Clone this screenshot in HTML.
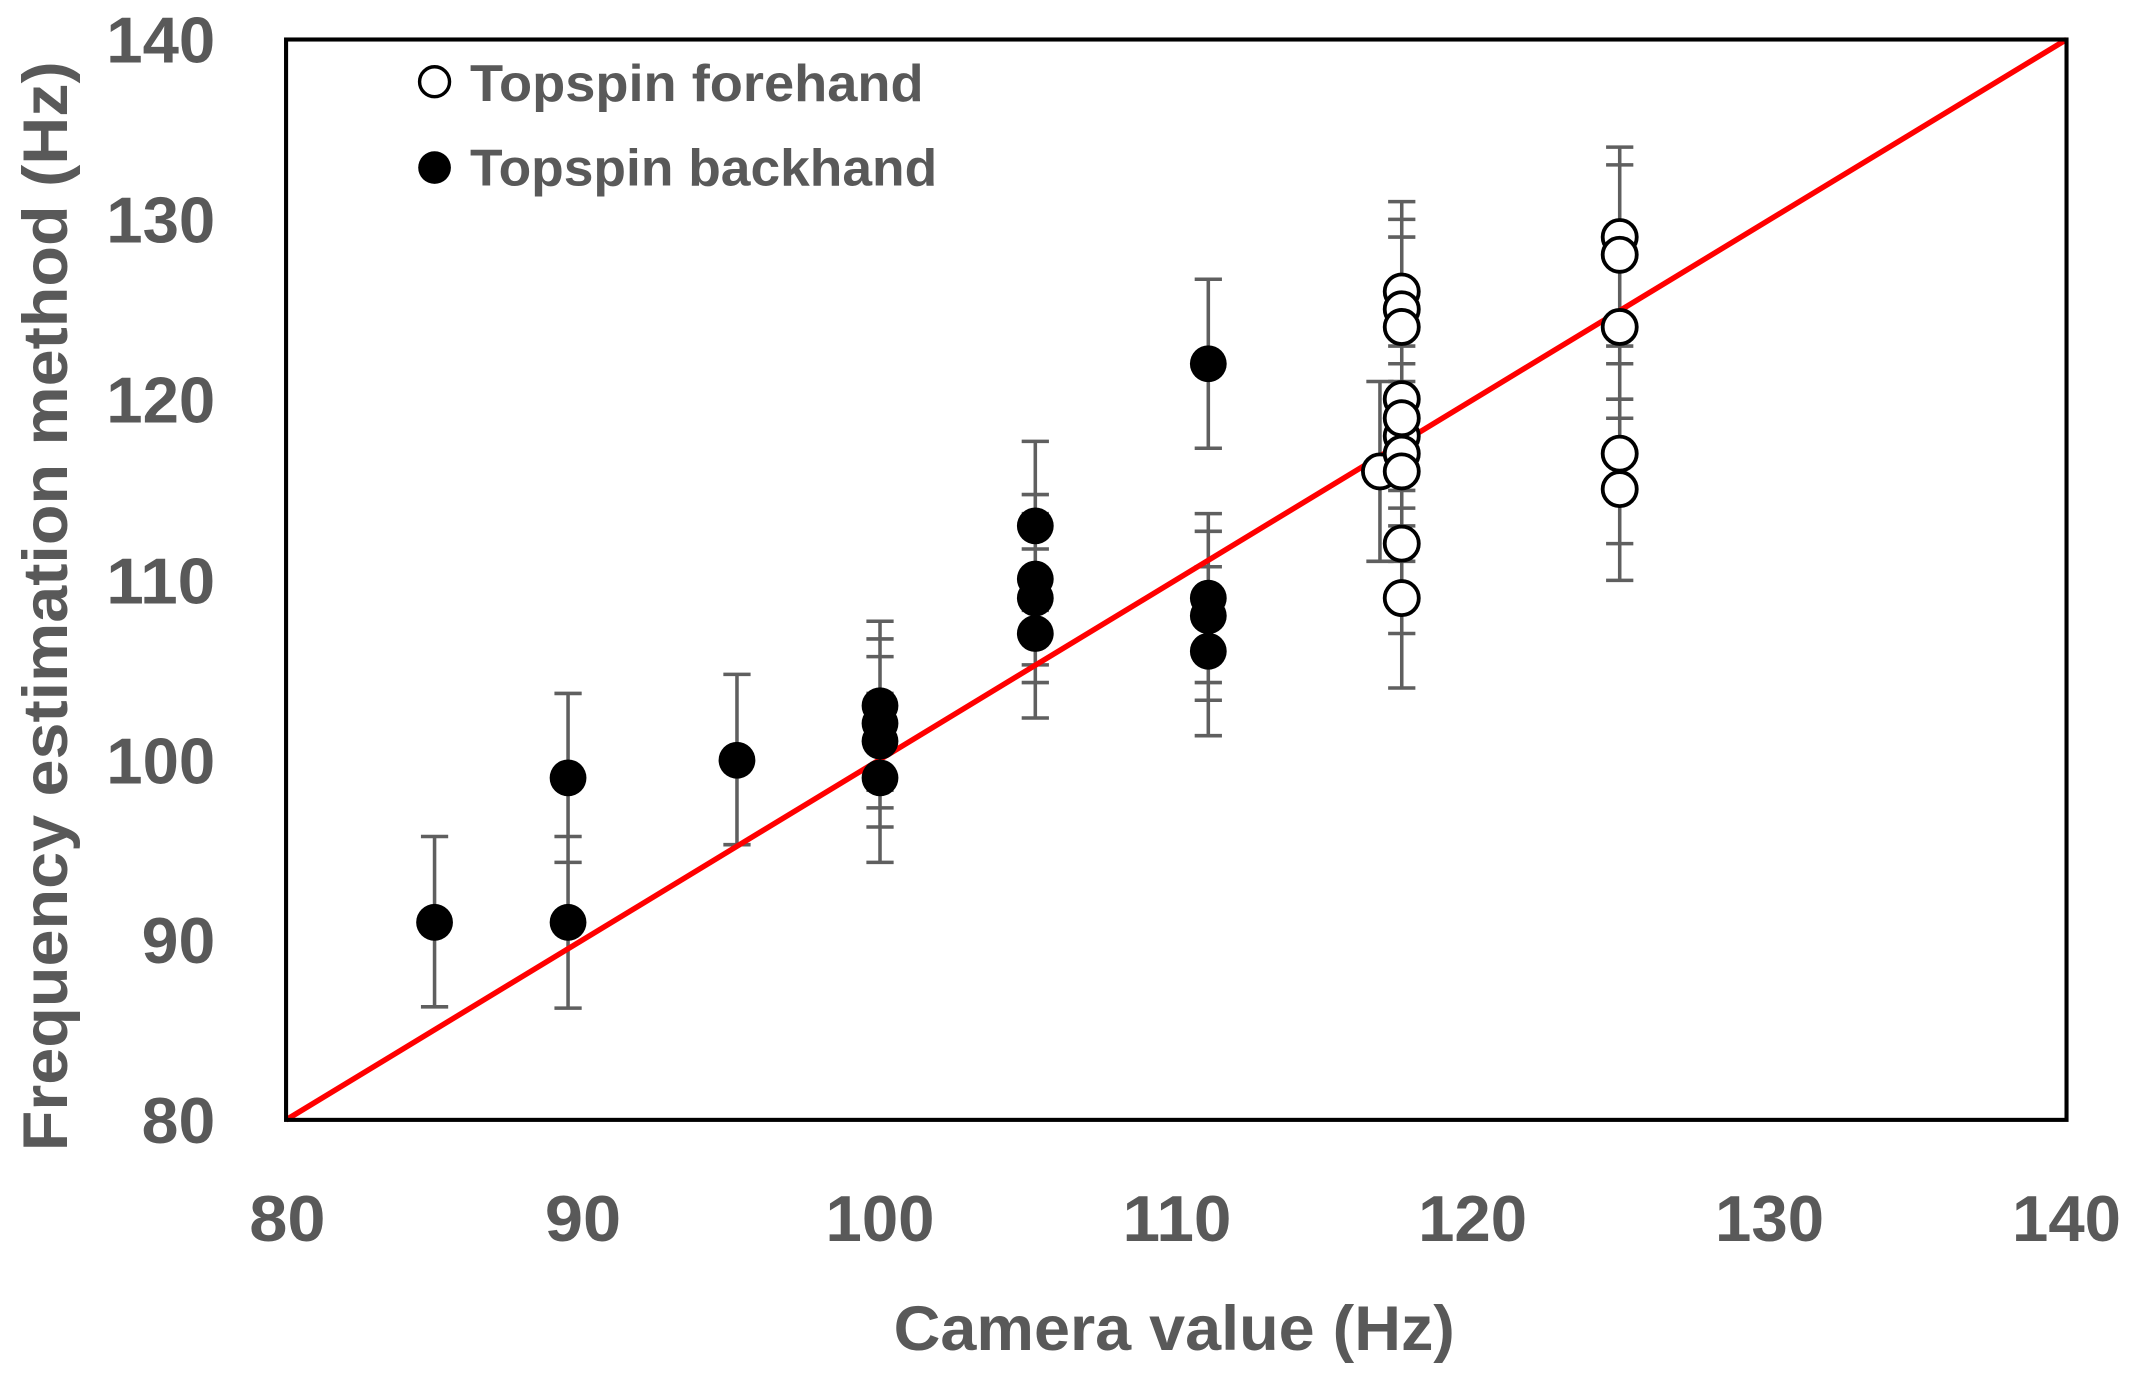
<!DOCTYPE html>
<html><head><meta charset="utf-8"><style>html,body{margin:0;padding:0;background:#fff}svg{display:block}</style></head>
<body>
<svg width="2136" height="1376" viewBox="0 0 1568 1010" preserveAspectRatio="none" xmlns="http://www.w3.org/2000/svg" font-family="'Liberation Sans', sans-serif" font-weight="bold">
<rect width="1568" height="1010" fill="#fff"/>
<g stroke="#5f5f5f" stroke-width="2.6" fill="none">
<path d="M319 739V614M309 739h20M309 614h20"/>
<path d="M417 509V740M407 509h20M407 633h20M407 614h20M407 740h20"/>
<path d="M541 495V620M531 495h20M531 620h20"/>
<path d="M646 456V633M636 456h20M636 469h20M636 482h20M636 509h20M636 580h20M636 593h20M636 607h20M636 633h20"/>
<path d="M760 324V527M750 324h20M750 363h20M750 377h20M750 403h20M750 448h20M750 488h20M750 501h20M750 527h20"/>
<path d="M887 205V329M877 205h20M877 329h20"/>
<path d="M887 377V540M877 377h20M877 390h20M877 416h20M877 501h20M877 514h20M877 540h20"/>
<path d="M1029 148V505M1019 148h20M1019 161h20M1019 174h20M1019 227h20M1019 241h20M1019 254h20M1019 267h20M1019 280h20M1019 293h20M1019 307h20M1019 333h20M1019 360h20M1019 373h20M1019 386h20M1019 399h20M1019 412h20M1019 465h20M1019 505h20"/>
<path d="M1013 280V412M1003 280h20M1003 412h20"/>
<path d="M1189 108V426M1179 108h20M1179 121h20M1179 174h20M1179 241h20M1179 254h20M1179 267h20M1179 293h20M1179 307h20M1179 399h20M1179 426h20"/>
</g>
<line x1="210" y1="822" x2="1517" y2="29" stroke="#ff0000" stroke-width="4"/>
<g fill="#000">
<circle cx="319" cy="677" r="13.5"/>
<circle cx="417" cy="571" r="13.5"/><circle cx="417" cy="677" r="13.5"/>
<circle cx="541" cy="558" r="13.5"/>
<circle cx="646" cy="518" r="13.5"/><circle cx="646" cy="531" r="13.5"/><circle cx="646" cy="544" r="13.5"/><circle cx="646" cy="571" r="13.5"/>
<circle cx="760" cy="386" r="13.5"/><circle cx="760" cy="425" r="13.5"/><circle cx="760" cy="439" r="13.5"/><circle cx="760" cy="465" r="13.5"/>
<circle cx="887" cy="267" r="13.5"/><circle cx="887" cy="439" r="13.5"/><circle cx="887" cy="452" r="13.5"/><circle cx="887" cy="478" r="13.5"/>
</g>
<g fill="#fff" stroke="#000" stroke-width="2.8">
<circle cx="1013" cy="346" r="12.5"/>
<circle cx="1029" cy="214" r="12.5"/><circle cx="1029" cy="227" r="12.5"/><circle cx="1029" cy="240" r="12.5"/>
<circle cx="1029" cy="293" r="12.5"/><circle cx="1029" cy="320" r="12.5"/><circle cx="1029" cy="333" r="12.5"/><circle cx="1029" cy="307" r="12.5"/>
<circle cx="1029" cy="346" r="12.5"/><circle cx="1029" cy="399" r="12.5"/><circle cx="1029" cy="439" r="12.5"/>
<circle cx="1189" cy="174" r="12.5"/><circle cx="1189" cy="187" r="12.5"/><circle cx="1189" cy="240" r="12.5"/><circle cx="1189" cy="333" r="12.5"/><circle cx="1189" cy="359" r="12.5"/>
</g>
<rect x="210" y="29" width="1307" height="793" fill="none" stroke="#000" stroke-width="3"/>
<circle cx="319" cy="60" r="11" fill="#fff" stroke="#000" stroke-width="2.5"/>
<circle cx="319" cy="123" r="12" fill="#000"/>
<g fill="#595959" font-size="38">
<text x="345" y="74" textLength="333" lengthAdjust="spacingAndGlyphs">Topspin forehand</text>
<text x="345" y="136" textLength="343" lengthAdjust="spacingAndGlyphs">Topspin backhand</text>
</g>
<g fill="#595959" font-size="48" text-anchor="end">
<text x="158" y="46" textLength="80" lengthAdjust="spacingAndGlyphs">140</text>
<text x="158" y="178" textLength="80" lengthAdjust="spacingAndGlyphs">130</text>
<text x="158" y="310" textLength="80" lengthAdjust="spacingAndGlyphs">120</text>
<text x="158" y="443" textLength="80" lengthAdjust="spacingAndGlyphs">110</text>
<text x="158" y="575" textLength="80" lengthAdjust="spacingAndGlyphs">100</text>
<text x="158" y="707" textLength="54" lengthAdjust="spacingAndGlyphs">90</text>
<text x="158" y="839" textLength="54" lengthAdjust="spacingAndGlyphs">80</text>
</g>
<g fill="#595959" font-size="48" text-anchor="middle">
<text x="211" y="911" textLength="56" lengthAdjust="spacingAndGlyphs">80</text>
<text x="428" y="911" textLength="56" lengthAdjust="spacingAndGlyphs">90</text>
<text x="646" y="911" textLength="80" lengthAdjust="spacingAndGlyphs">100</text>
<text x="864" y="911" textLength="80" lengthAdjust="spacingAndGlyphs">110</text>
<text x="1081" y="911" textLength="80" lengthAdjust="spacingAndGlyphs">120</text>
<text x="1299" y="911" textLength="80" lengthAdjust="spacingAndGlyphs">130</text>
<text x="1517" y="911" textLength="80" lengthAdjust="spacingAndGlyphs">140</text>
</g>
<text x="862" y="991" fill="#595959" font-size="46" text-anchor="middle" textLength="412" lengthAdjust="spacingAndGlyphs">Camera value (Hz)</text>
<text transform="translate(49,445) rotate(-90)" fill="#595959" font-size="46" text-anchor="middle" textLength="800" lengthAdjust="spacingAndGlyphs">Frequency estimation  method (Hz)</text>
</svg>
</body></html>
